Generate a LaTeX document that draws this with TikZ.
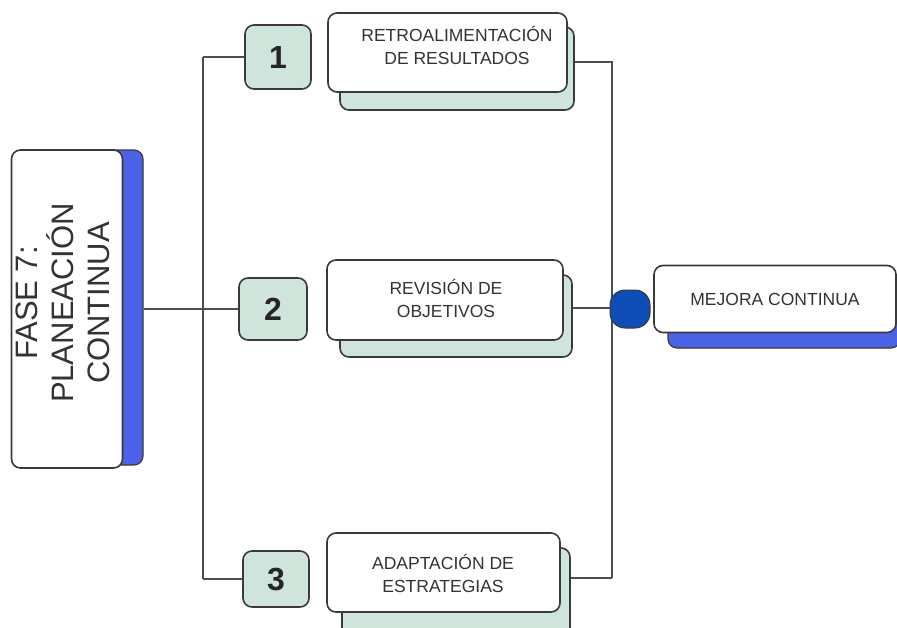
\documentclass[tikz,border=0pt]{standalone}
\usepackage{fontspec}
\setmainfont{Liberation Sans}
\definecolor{teal1}{HTML}{CFE5DC}
\definecolor{blueshadow}{HTML}{4B62E6}
\definecolor{dotblue}{HTML}{0D4DB5}
\definecolor{edge}{HTML}{3A3A3A}
\definecolor{txt}{HTML}{333333}
\begin{document}
\begin{tikzpicture}[x=1pt,y=-1pt,
  box/.style={draw=edge, line width=1.6pt, rounded corners=9pt, fill=white, inner sep=0pt},
  tealshadow/.style={draw=edge, line width=1.6pt, rounded corners=9pt, fill=teal1, inner sep=0pt},
  blueback/.style={draw=edge, line width=1.2pt, rounded corners=9pt, fill=blueshadow, inner sep=0pt},
  numbox/.style={draw=edge, line width=1.6pt, rounded corners=9pt, fill=teal1, inner sep=0pt,
     font=\fontsize{32}{32}\selectfont\bfseries, text=black!85},
  boxtext/.style={align=center, text=txt, font=\fontsize{17.5}{23}\selectfont},
  conn/.style={draw=edge!90, line width=1.4pt}
]
\useasboundingbox (0,0) rectangle (897,627);

% FASE 7 box
\node[blueback, minimum width=44pt, minimum height=315pt] (faseback) at (121,307.5) {};
\node[box, minimum width=111pt, minimum height=318pt] (fase) at (67,309) {};
\node[rotate=90, align=center, text=txt, font=\fontsize{31}{36}\selectfont] (fasetext) at (63,303) {FASE 7:\\PLANEACIÓN\\CONTINUA};

% number boxes
\node[numbox, minimum width=66pt, minimum height=64pt] (n1) at (278,57) {1};
\node[numbox, minimum width=68pt, minimum height=62pt] (n2) at (273,309) {2};
\node[numbox, minimum width=66pt, minimum height=56pt] (n3) at (276,579) {3};

% main boxes with shadows
\node[tealshadow, minimum width=234pt, minimum height=83pt] (sh1) at (457,68.5) {};
\node[box, minimum width=239pt, minimum height=79pt] (b1) at (447.5,52.5) {};
\node[boxtext] (t1) at (457,45) {RETROALIMENTACIÓN\\DE RESULTADOS};

\node[tealshadow, minimum width=232pt, minimum height=82pt] (sh2) at (456,316) {};
\node[box, minimum width=236pt, minimum height=80pt] (b2) at (445,300) {};
\node[boxtext] (t2) at (446,298) {REVISIÓN DE\\OBJETIVOS};

\node[tealshadow, minimum width=228pt, minimum height=97pt] (sh3) at (456,596.5) {};
\node[box, minimum width=233pt, minimum height=79pt] (b3) at (443.5,572.5) {};
\node[boxtext] (t3) at (443,573) {ADAPTACIÓN DE\\ESTRATEGIAS};

% spine coordinates
\coordinate (s1) at (203,57);
\coordinate (s2) at (203,309);
\coordinate (s3) at (203,579);
\coordinate (r1) at (612,62);
\coordinate (r2) at (612,308);
\coordinate (r3) at (612,578);

% left connectors
\draw[conn] (s1) -- (s3);
\draw[conn] (faseback.east |- s2) -- (s2);
\draw[conn] (s1) -- (n1.west);
\draw[conn] (s2) -- (n2.west);
\draw[conn] (s3) -- (n3.west);

% right connectors
\draw[conn] (sh1.east |- r1) -- (r1) -- (r3);
\draw[conn] (sh2.east |- r2) -- (r2);
\draw[conn] (sh3.east |- r3) -- (r3);

% Mejora continua
\node[blueback, minimum width=232pt, minimum height=58pt] (mback) at (784,319) {};
\node[box, minimum width=242pt, minimum height=67pt] (mejora) at (775,299) {};
\node[boxtext] (mt) at (775,299) {MEJORA CONTINUA};
\node[draw=edge, line width=1pt, fill=dotblue, rounded corners=15pt, minimum width=40pt, minimum height=38pt, inner sep=0pt] (dot) at (630,309) {};
\end{tikzpicture}
\end{document}
